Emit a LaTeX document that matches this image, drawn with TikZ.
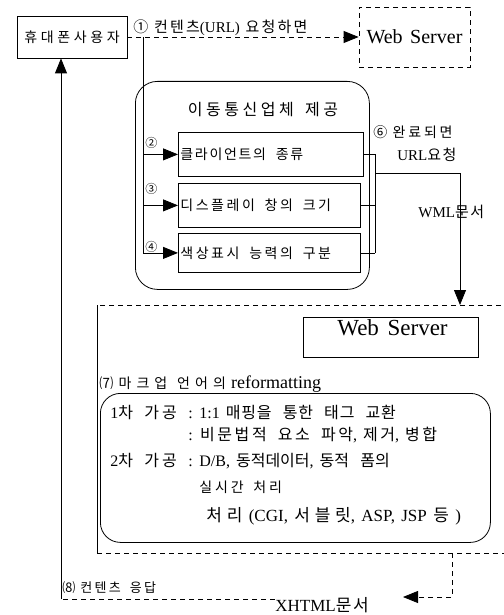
\documentclass[tikz,border=0pt]{standalone}
\usepackage{fontspec}
\setmainfont{Liberation Serif}[WordSpace=1.5]
\newfontfamily\krfont{Noto Sans CJK KR}
\newcommand\K[2][20]{{\krfont\addfontfeature{LetterSpace=#1}\spaceskip=0.7em plus 0.1em\relax #2}}
\newcommand\fs[1]{\fontsize{#1}{#1}\selectfont}
\usetikzlibrary{arrows.meta}
\begin{document}
\begin{tikzpicture}[x=1pt,y=-1pt, line width=0.8pt,
  dsh/.style={dash pattern=on 5pt off 4pt},
  tri/.style={-{Triangle[length=15pt,width=12pt]}},
  txt/.style={inner sep=0pt, anchor=base west},
  ibox/.style={draw, anchor=north west, inner sep=2pt}
]
\useasboundingbox (0,0) rectangle (503,615);

% top row
\node[draw, minimum width=110, minimum height=42, inner sep=0] (user) at (72,37) {\fs{14}\K[26]{휴대폰사용자}};
\node[draw, dsh, minimum width=111, minimum height=60] (webtop) at (414.5,37) {\fs{20}Web Server};
\draw[dsh, tri] (user.east) -- (webtop.west);
\node[txt] (t1) at (133,33) {\fs{15}\K[0]{①} \K[15]{컨텐츠}(URL) \K[15]{요청하면}};

% provider box
\node[draw, rounded corners=22, minimum width=234, minimum height=208, anchor=north west] (prov) at (135,81) {};
\node[inner sep=0pt, anchor=base] (ptitle) at (263,116) {\fs{16}\K[22]{이동통신업체 제공}};

\node[ibox, minimum width=185, minimum height=44] (b1) at (178,132) {\makebox[181pt][l]{\fs{14}\K[12]{클라이언트의 종류}}};
\node[ibox, minimum width=182, minimum height=44] (b2) at (178,183) {\makebox[178pt][l]{\fs{14}\K[18]{디스플레이 창의 크기}}};
\node[ibox, minimum width=182, minimum height=39] (b3) at (178,233) {\makebox[178pt][l]{\fs{14}\K[18]{색상표시 능력의 구분}}};

\coordinate (j1) at (143,37);
\draw (j1) -- (j1 |- b3.west);
\draw[tri] (j1 |- b1.west) -- (b1.west);
\draw[tri] (j1 |- b2.west) -- (b2.west);
\draw[tri] (j1 |- b3.west) -- (b3.west);
\node[txt] (n2) at (145,147) {\fs{12}\K[0]{②}};
\node[txt] (n3) at (145,193) {\fs{12}\K[0]{③}};
\node[txt] (n4) at (145,251) {\fs{12}\K[0]{④}};

% right bracket
\coordinate (k) at (375,173);
\draw (b1.east) -- (k |- b1.east);
\draw (b2.east) -- (k |- b2.east);
\draw (b3.east) -- (k |- b3.east);
\draw (k |- b1.east) -- (k |- b3.east);
\coordinate (kc) at (460,173);
\coordinate (bigtop) at (460,305);
\draw[tri] (k) -- (kc) -- (bigtop);
\node[txt] (t6) at (373,137) {\fs{14}\K[0]{⑥} \K{완료되면}};
\node[txt] (t6b) at (397,160) {\fs{15}URL\K[10]{요청}};
\node[txt] (twml) at (418,217) {\fs{15}WML\K[10]{문서}};

% big server frame
\coordinate (bigNW) at (97,305);
\coordinate (bigSW) at (97,553);
\draw[dsh] (510,305) -- (bigNW);
\draw (bigNW) -- (bigSW);
\draw[dsh] (bigSW) -- (510,553);

\node[draw, minimum width=175, minimum height=40, anchor=north west] (ws) at (303,317) {};
\node[txt] (wst) at (337,335) {\fs{23}Web Server};

\node[txt] (t7) at (99,388) {\fs{14}\K[0]{⑺} \K[36]{마크업 언어의} \fs{18}reformatting};
\node[draw, rounded corners=20, minimum width=390, minimum height=149, anchor=north west] (rf) at (100,393) {};

\node[txt] (r1a) at (110,418) {\fs{16}1\K[20]{차 가공}};
\node[txt] (r1c) at (188,418) {\fs{16}:};
\node[txt] (r1b) at (199,418) {\fs{16}1:1 \K[5]{매핑을 통한 태그 교환}};
\node[txt] (r2) at (188,440) {\fs{16}: \K[16]{비문법적 요소 파악}, \K[16]{제거}, \K[16]{병합}};
\node[txt] (r3a) at (110,466) {\fs{16}2\K[20]{차 가공}};
\node[txt] (r3c) at (188,466) {\fs{16}:};
\node[txt] (r3b) at (199,466) {\fs{16}D/B, \K[0]{동적데이터}, \K[0]{동적 폼의}};
\node[txt] (r4) at (199,492) {\fs{14}\K[20]{실시간 처리}};
\node[txt] (r5) at (206,521) {\fs{17}\K[28]{처리} (CGI, \K[28]{서블릿}, ASP, JSP \K[28]{등} )};

% bottom return path
\coordinate (bd) at (452,553);
\coordinate (bc) at (452,597);
\coordinate (btip) at (403,597);
\draw[dsh, tri] (bd) -- (bc) -- (btip);
\node[txt] (xh) at (275,611) {\fs{17}XHTML\K[10]{문서}};
\coordinate (bl) at (61,599);
\draw[dsh] (xh.west |- bl) -- (bl);
\draw[tri] (bl) -- (bl |- user.south);
\node[txt] (t8) at (62,592) {\fs{13}\K[0]{⑻} \K[18]{컨텐츠 응답}};
\end{tikzpicture}
\end{document}
